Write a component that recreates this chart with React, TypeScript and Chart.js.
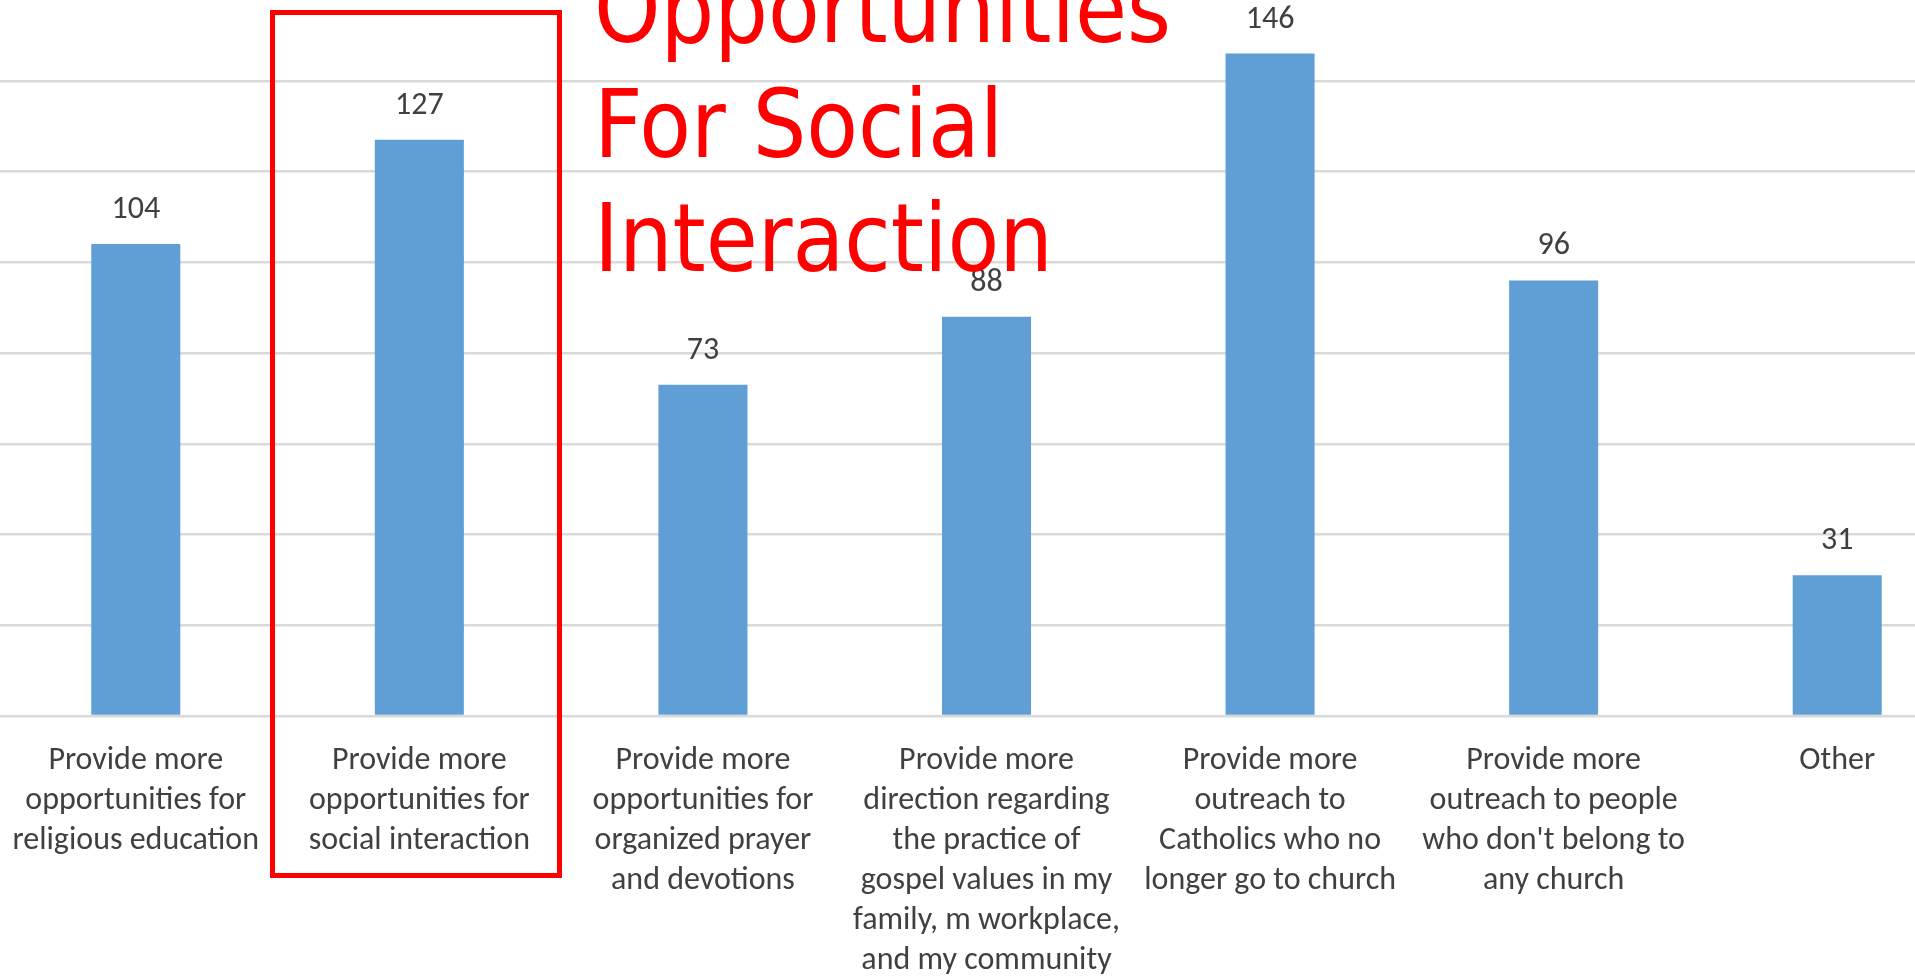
import React, { useEffect, useRef } from "react";
import { Chart, registerables } from "chart.js";

Chart.register(...registerables);

const categories: string[][] = [
  ["Provide more", "opportunities for", "religious education"],
  ["Provide more", "opportunities for", "social interaction"],
  ["Provide more", "opportunities for", "organized prayer", "and devotions"],
  ["Provide more", "direction regarding", "the practice of", "gospel values in my", "family, m workplace,", "and my community"],
  ["Provide more", "outreach to", "Catholics who no", "longer go to church"],
  ["Provide more", "outreach to people", "who don't belong to", "any church"],
  ["Other"],
];

const values: number[] = [104, 127, 73, 88, 146, 96, 31];

const yMin = 0;
const yMax = 160;
const yStep = 20;

const annotationLines: string[] = ["Opportunities", "For Social", "Interaction"];

const LABEL_FONT = '"Carlito", "Lato", sans-serif';
const LABEL_SIZE = 32;
const TEXT_COLOR = "#404040";
const BAR_COLOR = "#5f9fd6";
const GRID_COLOR = "#d9d9d9";

const valueLabelPlugin = {
  id: "valueLabels",
  afterDatasetsDraw(chart: any) {
    const ctx = chart.ctx;
    const meta = chart.getDatasetMeta(0);
    const ds = chart.data.datasets[0].data as number[];
    ctx.save();
    ctx.font = `${LABEL_SIZE}px ${LABEL_FONT}`;
    ctx.fillStyle = TEXT_COLOR;
    ctx.textAlign = "center";
    ctx.textBaseline = "middle";
    meta.data.forEach((bar: any, i: number) => {
      ctx.fillText(String(ds[i]), bar.x, bar.y - 34);
    });
    ctx.restore();
  },
};

function BarChart() {
  const ref = useRef<HTMLCanvasElement | null>(null);
  useEffect(() => {
    if (!ref.current) return;
    const chart = new Chart(ref.current, {
      type: "bar",
      data: {
        labels: categories,
        datasets: [
          {
            data: values,
            backgroundColor: BAR_COLOR,
            borderWidth: 0,
            categoryPercentage: 1,
            barPercentage: 0.314,
          },
        ],
      },
      options: {
        animation: false,
        responsive: true,
        maintainAspectRatio: false,
        layout: { padding: 0 },
        plugins: {
          legend: { display: false },
          tooltip: { enabled: false },
          title: { display: false },
        },
        scales: {
          x: {
            offset: true,
            grid: { display: false, drawTicks: false },
            border: { display: false },
            ticks: {
              autoSkip: false,
              maxRotation: 0,
              minRotation: 0,
              padding: 25,
              color: TEXT_COLOR,
              font: { family: LABEL_FONT, size: LABEL_SIZE, lineHeight: 40 / LABEL_SIZE },
            },
            afterFit: (scale: any) => {
              scale.height = 274;
              scale.paddingLeft = 0;
              scale.paddingRight = 0;
            },
          },
          y: {
            min: yMin,
            max: yMax,
            grid: { color: GRID_COLOR, lineWidth: 2.5, drawTicks: false },
            border: { display: false },
            ticks: { display: false, stepSize: yStep },
            afterFit: (scale: any) => {
              scale.width = 0;
              scale.paddingTop = 0;
              scale.paddingBottom = 0;
            },
          },
        },
      },
      plugins: [valueLabelPlugin],
    });
    return () => chart.destroy();
  }, []);
  return <canvas ref={ref} />;
}

export default function App() {
  return (
    <div
      style={{
        position: "fixed",
        left: 0,
        top: 0,
        width: "100vw",
        height: "100vh",
        overflow: "hidden",
        background: "#ffffff",
      }}
    >
      <div
        style={{
          position: "absolute",
          left: -6,
          top: -10,
          width: 1985,
          height: 1000,
        }}
      >
        <BarChart />
      </div>
      <div
        style={{
          position: "absolute",
          left: 269.5,
          top: 9.5,
          width: 292.5,
          height: 868.5,
          boxSizing: "border-box",
          border: "5px solid #ff0000",
        }}
      />
      <div
        style={{
          position: "absolute",
          left: 594,
          top: -47,
          color: "#ff0000",
          fontFamily: '"DejaVu Sans Condensed", "DejaVu Sans", sans-serif',
          fontStretch: "condensed",
          fontSize: 94,
          lineHeight: "114.5px",
          whiteSpace: "pre",
        }}
      >
        {annotationLines.map((t, i) => (
          <div key={i}>{t}</div>
        ))}
      </div>
    </div>
  );
}
